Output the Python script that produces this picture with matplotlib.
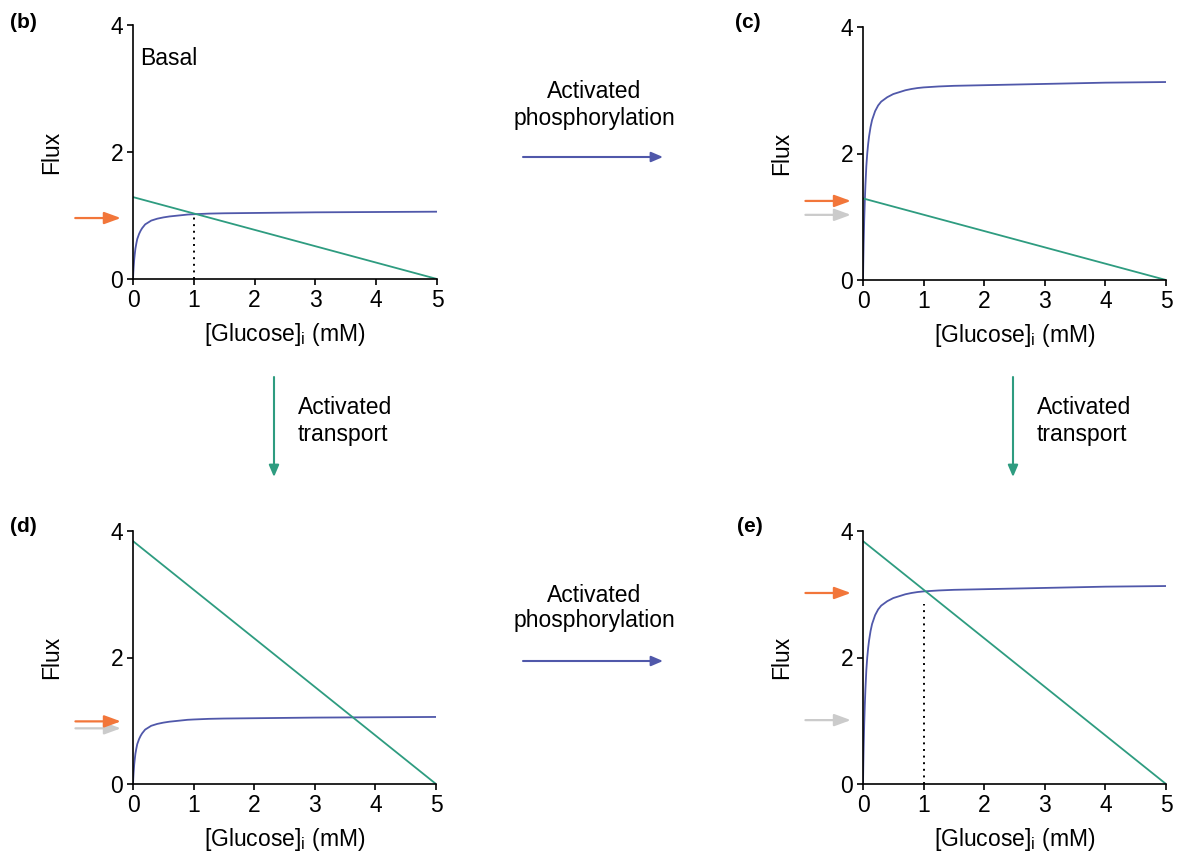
import matplotlib
matplotlib.use("Agg")
import matplotlib.pyplot as plt
from matplotlib.patches import FancyArrowPatch

# =========================
# DATA
# =========================
glucose = [0, 0.005, 0.01, 0.02, 0.03, 0.04, 0.055, 0.07, 0.085, 0.1, 0.125,
           0.15, 0.2, 0.25, 0.3, 0.4, 0.5, 0.6, 0.7, 0.8, 0.9, 1.0, 1.25, 1.5,
           2.0, 2.5, 3.0, 4.0, 5.0]

# phosphorylation flux (blue curves)
phos_basal = [0, 0.10, 0.18, 0.31, 0.40, 0.48, 0.56, 0.63, 0.67, 0.71, 0.76,
              0.80, 0.86, 0.89, 0.92, 0.95, 0.97, 0.985, 0.995, 1.005, 1.015,
              1.02, 1.03, 1.035, 1.04, 1.045, 1.05, 1.055, 1.06]
phos_active = [0, 0.30, 0.55, 0.95, 1.25, 1.50, 1.80, 2.00, 2.15, 2.27, 2.42,
               2.53, 2.67, 2.76, 2.82, 2.89, 2.94, 2.97, 3.00, 3.02, 3.035,
               3.045, 3.06, 3.07, 3.08, 3.09, 3.10, 3.12, 3.13]

# transport flux (green straight lines), end points at 0 and 5 mM
line_x = [0, 5]
transport_basal = [1.29, 0]
transport_active = [3.84, 0]

# per panel: phos curve, transport line, orange arrow level, grey arrow level, dotted top
panels = {
    "b": dict(phos=phos_basal, trans=transport_basal, orange=0.96, grey=None, dot=0.98),
    "c": dict(phos=phos_active, trans=transport_basal, orange=1.25, grey=1.03, dot=None),
    "d": dict(phos=phos_basal, trans=transport_active, orange=0.99, grey=0.88, dot=None),
    "e": dict(phos=phos_active, trans=transport_active, orange=3.02, grey=1.01, dot=2.85),
}

# =========================
# STYLE
# =========================
BLUE = "#5058aa"
GREEN = "#2e9c80"
ORANGE = "#f2763a"
GREY = "#cbcbcb"
FS = 16.5

plt.rcParams["font.family"] = ["Liberation Sans", "DejaVu Sans"]
plt.rcParams["mathtext.default"] = "regular"
plt.rcParams["font.size"] = FS

W, H = 1180, 851
fig = plt.figure(figsize=(W / 100, H / 100), dpi=100)


def px_axes(left, top, right, bottom):
    return [left / W, 1 - bottom / H, (right - left) / W, (bottom - top) / H]


def fpos(x, y):
    return (x / W, 1 - y / H)


# axes boxes in pixels: left, top, right, bottom
boxes = {
    "b": (133, 25, 437, 279),
    "c": (863, 27, 1166, 280),
    "d": (133, 531, 436, 784),
    "e": (863, 531, 1166, 784),
}

ARROW = "-|>,head_length=0.6,head_width=0.22"

for key, spec in panels.items():
    ax = fig.add_axes(px_axes(*boxes[key]))
    ax.plot(glucose, spec["phos"], color=BLUE, lw=1.3)
    ax.plot(line_x, spec["trans"], color=GREEN, lw=1.3)
    if spec["dot"] is not None:
        ax.plot([1, 1], [0, spec["dot"]], color="black", lw=1.4, ls=(0, (1, 2.4)))

    ax.set_xlim(0, 5)
    ax.set_ylim(0, 4)
    ax.set_xticks([0, 1, 2, 3, 4, 5])
    ax.set_yticks([0, 2, 4])
    for s in ["top", "right"]:
        ax.spines[s].set_visible(False)
    for s in ["left", "bottom"]:
        ax.spines[s].set_linewidth(1.2)
    ax.tick_params(direction="out", length=4, width=1.2, labelsize=FS, pad=3)

    ax.set_ylabel("Flux", fontsize=FS)
    ax.yaxis.set_label_coords(-0.23, 0.5)
    ax.set_xlabel("[Glucose]$_{i}$ (mM)", fontsize=FS)
    ax.xaxis.set_label_coords(0.5, -0.165)

    # arrows left of the y axis
    if spec["grey"] is not None:
        ax.annotate("", xy=(-0.2, spec["grey"]), xytext=(-0.95, spec["grey"]),
                    xycoords="data", annotation_clip=False,
                    arrowprops=dict(arrowstyle=ARROW, color=GREY, lw=1.6,
                                    shrinkA=0, shrinkB=0))
    ax.annotate("", xy=(-0.2, spec["orange"]), xytext=(-0.95, spec["orange"]),
                xycoords="data", annotation_clip=False,
                arrowprops=dict(arrowstyle=ARROW, color=ORANGE, lw=1.6,
                                shrinkA=0, shrinkB=0))

    if key == "b":
        ax.text(0.025, 0.87, "Basal", transform=ax.transAxes, fontsize=FS,
                ha="left", va="center")

# panel letters
for lab, (x, y) in {"(b)": (10, 22), "(c)": (735, 22), "(d)": (10, 527), "(e)": (737, 527)}.items():
    fig.text(*fpos(x, y), lab, fontsize=FS - 1.5, fontweight="bold", ha="left", va="center")

# connecting arrows between panels
for ytext1, yarrow in [(92, 157), (595, 661)]:
    fig.text(*fpos(594, ytext1), "Activated", ha="center", va="center", fontsize=FS)
    fig.text(*fpos(594, ytext1 + 26), "phosphorylation", ha="center", va="center", fontsize=FS)
    fig.add_artist(FancyArrowPatch(
        fpos(523, yarrow), fpos(663, yarrow), transform=fig.transFigure,
        arrowstyle="-|>,head_length=7,head_width=3", color=BLUE, lw=1.5,
        shrinkA=0, shrinkB=0))

for xarrow in [274, 1013]:
    fig.add_artist(FancyArrowPatch(
        fpos(xarrow, 377), fpos(xarrow, 477), transform=fig.transFigure,
        arrowstyle="-|>,head_length=7,head_width=3", color=GREEN, lw=1.5,
        shrinkA=0, shrinkB=0))
    fig.text(*fpos(xarrow + 24, 408), "Activated", ha="left", va="center", fontsize=FS)
    fig.text(*fpos(xarrow + 24, 435), "transport", ha="left", va="center", fontsize=FS)

fig.savefig("out.png", dpi=100)
